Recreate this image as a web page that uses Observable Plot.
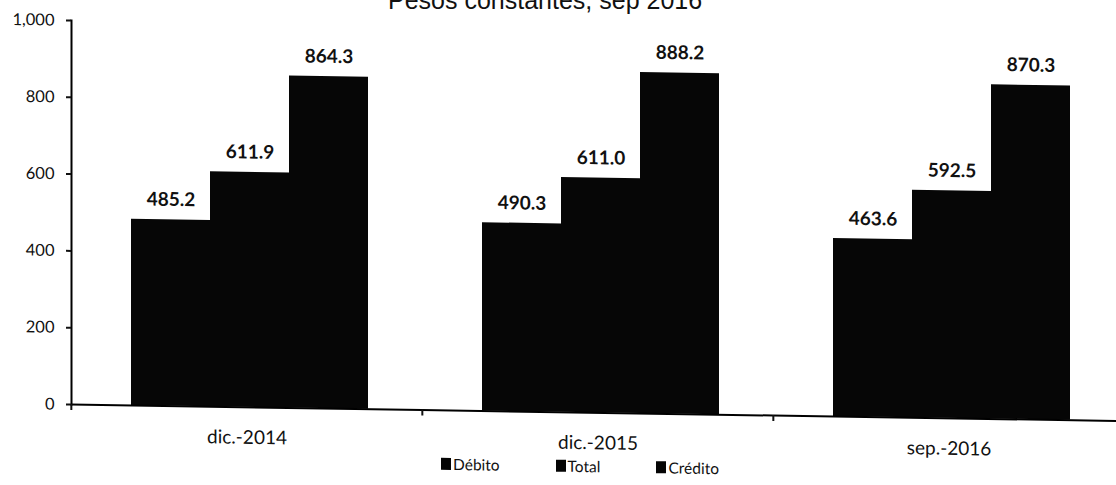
<!DOCTYPE html>
<html>
<head>
<meta charset="utf-8">
<script src="https://cdn.jsdelivr.net/npm/d3@7"></script>
<script src="https://cdn.jsdelivr.net/npm/@observablehq/plot@0.6"></script>
<style>
  html, body { margin: 0; padding: 0; background: #fff; overflow: hidden; }
  body { width: 1116px; height: 485px; position: relative; }
  #title { position: absolute; left: 388px; top: -12px; font-family: "Liberation Sans", Arial, sans-serif; font-size: 25px; line-height: 25px; color: #111; white-space: nowrap; }
  #wrap { position: absolute; left: 0; top: 0; width: 1116px; transform: skewY(0.9deg); transform-origin: 70px 404px; }
  #legend { display: flex; justify-content: center; padding-left: 44px; margin-top: -4px; }
  .lg-swatch { margin-right: 56px !important; font-size: 15.5px !important; }
  .lg-swatch:last-child { margin-right: 0 !important; }
  .lg-swatch svg { margin-right: 2px !important; }
</style>
</head>
<body>
<div id="title">Pesos constantes, sep 2016</div>
<div id="wrap"><div id="chart"></div><div id="legend"></div></div>
<script>
const periods = ["dic.-2014", "dic.-2015", "sep.-2016"];
const series = ["Débito", "Total", "Crédito"];
const debito = [485.2, 490.3, 463.6];
const total = [611.9, 611.0, 592.5];
const credito = [864.3, 888.2, 870.3];
const yTicks = [0, 200, 400, 600, 800, 1000];

const data = periods.flatMap((p, i) => [
  {period: p, series: "Débito", value: debito[i]},
  {period: p, series: "Total", value: total[i]},
  {period: p, series: "Crédito", value: credito[i]}
]);

const W = 1116, ML = 70, MR = -8;
const halfBand = (W - ML - MR) / periods.length / 2;

const chart = Plot.plot({
  width: W, height: 445,
  marginLeft: ML, marginRight: MR, marginTop: 20, marginBottom: 41,
  style: {fontFamily: "Lato, sans-serif", background: "transparent", overflow: "visible", color: "#111"},
  fx: {domain: periods, padding: 0},
  x: {domain: series, paddingInner: 0, paddingOuter: 0.71, align: 0.53, axis: null},
  y: {domain: [0, 1000]},
  marks: [
    Plot.barY(data, {fx: "period", x: "series", y: "value", fill: "#060606"}),
    Plot.ruleY([0], {stroke: "#000", strokeWidth: 2}),
    Plot.frame({anchor: "left", facetAnchor: "left", stroke: "#000", strokeWidth: 2}),
    Plot.axisY({ticks: yTicks, tickFormat: d3.format(","), tickSize: 5, tickPadding: 12, fontSize: 16.5, label: null, strokeWidth: 2}),
    Plot.axisFx({anchor: "bottom", tickSize: 6, tickFormat: () => "", dx: -halfBand, label: null, strokeWidth: 2}),
    Plot.axisFx({anchor: "bottom", tickSize: 0, tickPadding: 23, fontSize: 19, label: null}),
    Plot.text(data, {fx: "period", x: "series", y: "value", text: d => d3.format(".1f")(d.value), dy: -20, fontSize: 19, fontWeight: "bold", fill: "#111"})
  ]
});
document.getElementById("chart").appendChild(chart);

const legend = Plot.legend({
  color: {type: "ordinal", domain: series, range: ["#050505", "#050505", "#050505"]},
  swatchWidth: 10, swatchHeight: 12, className: "lg",
  style: {fontFamily: "Lato, sans-serif", fontSize: "15.5px", color: "#111"}
});
document.getElementById("legend").appendChild(legend);
</script>
</body>
</html>
